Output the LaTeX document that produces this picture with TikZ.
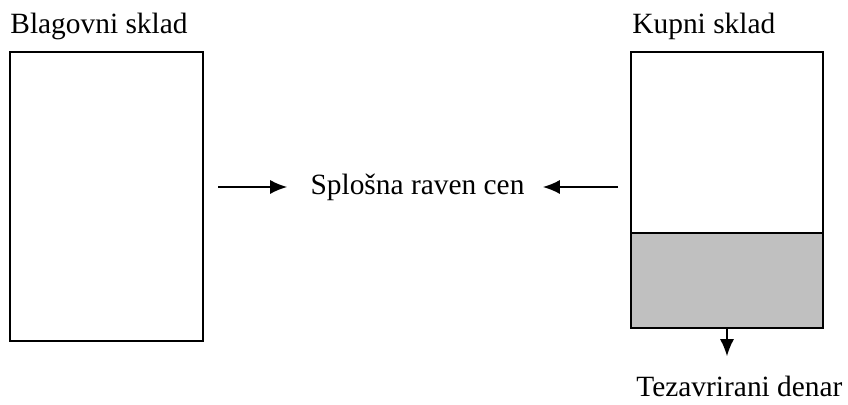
\documentclass[tikz,border=0pt]{standalone}
\usepackage{fontspec}
\setmainfont{Liberation Serif}
\usetikzlibrary{arrows.meta, positioning}
\definecolor{hoarded}{RGB}{192,192,192}

\begin{document}
\begin{tikzpicture}
    [
        x=0.5pt, y=-0.5pt,
        font=\fontsize{14.7}{17}\selectfont,
        box/.style={draw, line width=1pt, inner sep=0pt, outer sep=0pt, minimum width=96pt},
        lbl/.style={inner sep=0pt, anchor=base west},
        line/.style={draw, line width=0.8pt, -{Latex[length=8.5pt,width=7pt]}}
    ]
    \useasboundingbox (0,0) rectangle (848,405);

    % the two stores
    \node[box, minimum width=96.5pt, minimum height=144.5pt] (goods) at (106.5,196.5) {};
    \node[box, minimum height=90.5pt] (buy) at (727,142.5) {};
    \node[box, minimum height=47.5pt, fill=hoarded, below=0pt of buy] (hoard) {};

    \node[lbl] (goodslbl) at ([yshift=9pt]goods.north west) {Blagovni sklad};
    \node[lbl] (buylbl) at ([xshift=0.5pt,yshift=9pt]buy.north west) {Kupni sklad};

    % price level in the middle
    \node[inner sep=0pt] (price) at (417.5,187) {Splošna raven cen};
    \path[line] ([xshift=7.5pt]goods.east |- price.west) -- ([xshift=-11.5pt]price.west);
    \path[line] ([xshift=-6.5pt]buy.west |- price.east) -- ([xshift=9pt]price.east);

    % hoarded money
    \node[lbl] (money) at ([xshift=2.5pt,yshift=-34.5pt]hoard.south west) {Tezavrirani denar};
    \path[line] (hoard.south) -- ([yshift=10pt]hoard.south |- money.north);
\end{tikzpicture}
\end{document}
